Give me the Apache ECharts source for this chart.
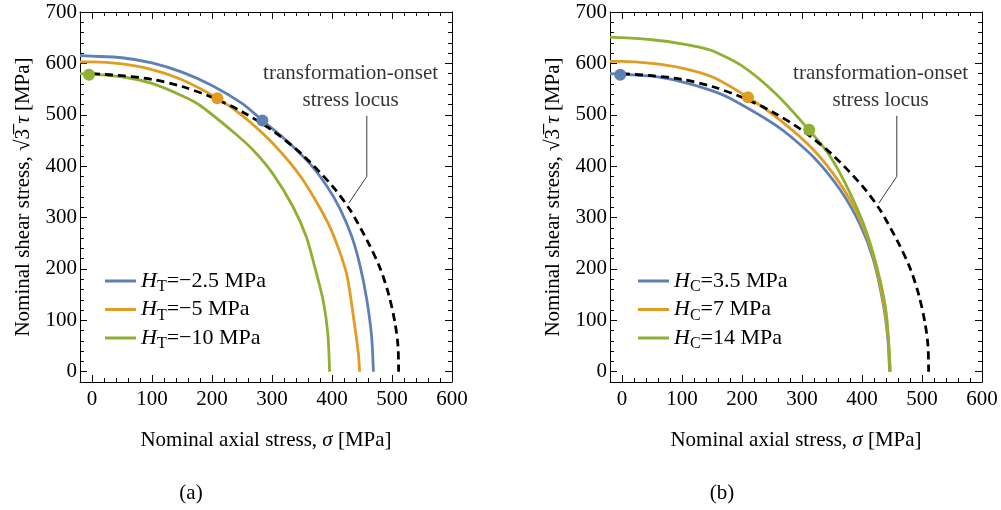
<!DOCTYPE html>
<html><head><meta charset="utf-8">
<script src="https://cdn.jsdelivr.net/npm/echarts@6/dist/echarts.min.js"></script>
<style>html,body{margin:0;padding:0;background:#fff}#c{width:1001px;height:510px}</style>
</head><body><div id="c"></div>
<script>
// ---- tick labels ----
const xTicks = [0, 100, 200, 300, 400, 500, 600];
const yTicks = [0, 100, 200, 300, 400, 500, 600, 700];

// ---- transformation-onset stress locus (dashed, both panels) ----
const locusSigma = [0, 50, 100, 150, 200, 250, 300, 350, 400, 430, 460, 480, 495, 505, 510, 511];
const locusTau   = [580, 576, 569, 555, 534, 506, 470, 423, 362, 315, 252, 202, 148, 95, 50, 0];

// ---- panel (a): H_T ----
const aBlueSigma = [-20, 0, 50, 100, 150, 200, 250, 284, 324, 363, 391, 413, 433, 447, 458, 466, 469];
const aBlueTau   = [615, 614, 611, 601, 583, 557, 522, 489, 450, 405, 362, 318, 263, 205, 140, 69, 0];
const aOrangeSigma = [-20, 0, 50, 100, 150, 209, 250, 300, 350, 396, 424, 438, 444, 446];
const aOrangeTau   = [603, 603, 599, 588, 568, 532, 499, 446, 376, 283, 192, 88, 35, 0];
const aGreenSigma = [-20, 0, 50, 100, 150, 179, 235, 268, 301, 335, 357, 371, 385, 393, 396];
const aGreenTau   = [580, 579, 574, 561, 537, 519, 467, 432, 386, 321, 263, 205, 140, 75, 0];
const aDotSigma = [-5, 209, 284];
const aDotTau   = [578, 532, 489];

// ---- panel (b): H_C ----
const bBlueSigma = [-20, 0, 50, 100, 147, 180, 263, 319, 363, 397, 419, 435, 443, 446];
const bBlueTau   = [580, 579, 575, 564, 548, 532, 474, 418, 355, 286, 218, 134, 65, 0];
const bOrangeSigma = [-20, 0, 50, 100, 150, 210, 263, 319, 363, 397, 419, 435, 444, 447];
const bOrangeTau   = [604, 604, 600, 591, 574, 534, 490, 432, 367, 296, 224, 140, 62, 0];
const bGreenSigma = [-20, 0, 50, 100, 147, 200, 258, 312, 347, 380, 408, 430, 441, 447];
const bGreenTau   = [651, 650, 646, 638, 626, 595, 539, 470, 419, 348, 270, 179, 108, 0];
const bDotSigma = [-3, 210, 312];
const bDotTau   = [578, 534, 471];

// ---- annotation (leader line + label anchor) ----
const leaderSigma = [458, 458, 428];
const leaderTau   = [498, 380, 328];
const annotSigma = [431];
const annotTau   = [555];

const legendA = ['{i|H}{s|T}=\u22122.5 MPa', '{i|H}{s|T}=\u22125 MPa', '{i|H}{s|T}=\u221210 MPa'];
const legendB = ['{i|H}{s|C}=3.5 MPa', '{i|H}{s|C}=7 MPa', '{i|H}{s|C}=14 MPa'];
const xTitle = 'Nominal axial stress, {i|\u03c3} [MPa]';
const yTitle = 'Nominal shear stress, \u221a3\u0305 {i|\u03c4} [MPa]';

const BLUE = '#5E81B5', ORANGE = '#E19C24', GREEN = '#8FB032';
const FONT = 'Liberation Serif';
const TICK = '#0a0a0a';
const zip = (xs, ys) => xs.map((x, i) => [x, ys[i]]);

const chart = echarts.init(document.getElementById('c'));

function tickStyle(len, custom) {
  const t = { show: true, inside: true, length: len, lineStyle: { color: TICK, width: 1 } };
  if (custom) t.customValues = custom;
  return t;
}
function axesX(g) {
  const base = { type: 'value', gridIndex: g, min: -20, max: 600, interval: 20, splitLine: { show: false },
    axisLine: { show: true, onZero: false, lineStyle: { color: '#000', width: 1 } },
    axisTick: tickStyle(4), axisLabel: { show: false } };
  return [
    Object.assign({}, base, { position: 'bottom',
      axisLabel: { show: true, customValues: xTicks, margin: 7, color: '#000', fontFamily: FONT, fontSize: 21 } }),
    Object.assign({}, base, { position: 'bottom', axisLine: { show: false, onZero: false }, axisTick: tickStyle(7, xTicks) }),
    Object.assign({}, base, { position: 'top' }),
    Object.assign({}, base, { position: 'top', axisLine: { show: false, onZero: false }, axisTick: tickStyle(7, xTicks) })
  ];
}
function axesY(g) {
  const base = { type: 'value', gridIndex: g, min: -20, max: 700, interval: 20, splitLine: { show: false },
    axisLine: { show: true, onZero: false, lineStyle: { color: '#000', width: 1 } },
    axisTick: tickStyle(4), axisLabel: { show: false } };
  return [
    Object.assign({}, base, { position: 'left',
      axisLabel: { show: true, customValues: yTicks, margin: 3, color: '#000', fontFamily: FONT, fontSize: 21 } }),
    Object.assign({}, base, { position: 'left', axisLine: { show: false, onZero: false }, axisTick: tickStyle(7, yTicks) }),
    Object.assign({}, base, { position: 'right' }),
    Object.assign({}, base, { position: 'right', axisLine: { show: false, onZero: false }, axisTick: tickStyle(7, yTicks) })
  ];
}

function curve(name, xi, xs, ys, color) {
  return { name, type: 'line', xAxisIndex: xi, yAxisIndex: xi, data: zip(xs, ys),
    showSymbol: false, symbol: 'none', smooth: 0.25, color,
    itemStyle: { color }, lineStyle: { color, width: 2.8 }, z: 3, silent: true };
}
function panelExtras(tag, xi, dotS, dotT, dotColors) {
  return [
    { name: 'locus' + tag, type: 'line', xAxisIndex: xi, yAxisIndex: xi, data: zip(locusSigma, locusTau),
      showSymbol: false, symbol: 'none', smooth: 0.3,
      lineStyle: { color: '#000', width: 2.8, type: [8, 5] }, z: 4, silent: true },
    { name: 'leader' + tag, type: 'line', xAxisIndex: xi, yAxisIndex: xi, data: zip(leaderSigma, leaderTau),
      showSymbol: false, symbol: 'none', lineStyle: { color: '#3a3a3a', width: 1 }, z: 2, silent: true },
    { name: 'annot' + tag, type: 'scatter', xAxisIndex: xi, yAxisIndex: xi, data: zip(annotSigma, annotTau),
      symbolSize: 0, silent: true,
      label: { show: true, position: 'inside', formatter: 'transformation-onset\nstress locus',
        fontFamily: FONT, fontSize: 21, lineHeight: 27, color: '#000', align: 'center' } },
    { name: 'dots' + tag, type: 'scatter', xAxisIndex: xi, yAxisIndex: xi, symbolSize: 12, z: 6, silent: true,
      data: zip(dotS, dotT).map((v, i) => ({ value: v, itemStyle: { color: dotColors[i], opacity: 1 } })) }
  ];
}

const legendText = { a1: legendA[0], a2: legendA[1], a3: legendA[2], b1: legendB[0], b2: legendB[1], b3: legendB[2] };
function legend(names, left) {
  return { data: names, orient: 'vertical', left, top: 262, icon: 'rect', itemWidth: 31, itemHeight: 3,
    itemGap: 0.5, selectedMode: false, formatter: n => legendText[n],
    textStyle: { color: '#000', fontFamily: FONT, fontSize: 22, lineHeight: 28,
      rich: { i: { fontStyle: 'italic', fontFamily: FONT, fontSize: 22, lineHeight: 28, color: '#000' },
              s: { fontFamily: FONT, fontSize: 16, lineHeight: 28, verticalAlign: 'bottom', color: '#000' } } } };
}

const richI = { i: { fontStyle: 'italic', fontFamily: FONT, fontSize: 21, fill: '#000' } };
function titleText(text, x, y, rot) {
  return { type: 'text', x, y, rotation: rot || 0, silent: true,
    style: { text, fontFamily: FONT, fontSize: 21, fill: '#000', align: 'center', verticalAlign: 'middle', rich: richI } };
}

chart.setOption({
  animation: false,
  grid: [
    { left: 80, top: 12, width: 372, height: 370 },
    { left: 610, top: 12, width: 372, height: 370 }
  ],
  xAxis: axesX(0).concat(axesX(1)),
  yAxis: axesY(0).concat(axesY(1)),
  legend: [legend(['a1', 'a2', 'a3'], 100), legend(['b1', 'b2', 'b3'], 633)],
  series: [
    curve('a1', 0, aBlueSigma, aBlueTau, BLUE),
    curve('a2', 0, aOrangeSigma, aOrangeTau, ORANGE),
    curve('a3', 0, aGreenSigma, aGreenTau, GREEN),
    ...panelExtras('a', 0, aDotSigma, aDotTau, [GREEN, ORANGE, BLUE]),
    curve('b1', 4, bBlueSigma, bBlueTau, BLUE),
    curve('b2', 4, bOrangeSigma, bOrangeTau, ORANGE),
    curve('b3', 4, bGreenSigma, bGreenTau, GREEN),
    ...panelExtras('b', 4, bDotSigma, bDotTau, [BLUE, ORANGE, GREEN])
  ],
  graphic: [
    titleText(xTitle, 266, 440),
    titleText(xTitle, 796, 440),
    titleText(yTitle, 23, 197, Math.PI / 2),
    titleText(yTitle, 553, 197, Math.PI / 2),
    titleText('(a)', 191, 493),
    titleText('(b)', 722, 493)
  ]
});
</script></body></html>
